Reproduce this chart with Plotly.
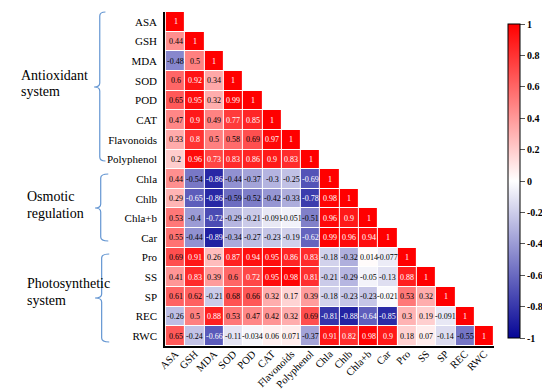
import plotly.graph_objects as go

variables = ["ASA", "GSH", "MDA", "SOD", "POD", "CAT", "Flavonoids", "Polyphenol",
             "Chla", "Chlb", "Chla+b", "Car", "Pro", "SS", "SP", "REC", "RWC"]

# lower-triangular correlation rows
r_ASA = [1]
r_GSH = [0.44, 1]
r_MDA = [-0.48, 0.5, 1]
r_SOD = [0.6, 0.92, 0.34, 1]
r_POD = [0.65, 0.95, 0.32, 0.99, 1]
r_CAT = [0.47, 0.9, 0.49, 0.77, 0.85, 1]
r_Flav = [0.33, 0.8, 0.5, 0.58, 0.69, 0.97, 1]
r_Poly = [0.2, 0.96, 0.73, 0.83, 0.86, 0.9, 0.83, 1]
r_Chla = [0.44, -0.54, -0.86, -0.44, -0.37, -0.3, -0.25, -0.69, 1]
r_Chlb = [0.29, -0.65, -0.86, -0.59, -0.52, -0.42, -0.33, -0.78, 0.98, 1]
r_Chlab = [0.53, -0.4, -0.72, -0.29, -0.21, -0.091, -0.051, -0.51, 0.96, 0.9, 1]
r_Car = [0.55, -0.44, -0.89, -0.34, -0.27, -0.23, -0.19, -0.62, 0.99, 0.96, 0.94, 1]
r_Pro = [0.69, 0.91, 0.26, 0.87, 0.94, 0.95, 0.86, 0.83, -0.18, -0.32, 0.014, -0.077, 1]
r_SS = [0.41, 0.83, 0.39, 0.6, 0.72, 0.95, 0.98, 0.81, -0.21, -0.29, -0.05, -0.13, 0.88, 1]
r_SP = [0.61, 0.62, -0.21, 0.68, 0.66, 0.32, 0.17, 0.39, -0.18, -0.23, -0.23, -0.021, 0.53, 0.32, 1]
r_REC = [-0.26, 0.5, 0.88, 0.53, 0.47, 0.42, 0.32, 0.69, -0.81, -0.88, -0.64, -0.85, 0.3, 0.19, -0.091, 1]
r_RWC = [0.65, -0.24, -0.66, -0.11, -0.034, 0.06, 0.071, -0.37, 0.91, 0.82, 0.98, 0.9, 0.18, 0.07, -0.14, -0.55, 1]

rows = [r_ASA, r_GSH, r_MDA, r_SOD, r_POD, r_CAT, r_Flav, r_Poly, r_Chla, r_Chlb,
        r_Chlab, r_Car, r_Pro, r_SS, r_SP, r_REC, r_RWC]

groups = [("Antioxidant", "system"), ("Osmotic", "regulation"), ("Photosynthetic", "system")]

cbar_ticks = [-1, -0.8, -0.6, -0.4, -0.2, 0, 0.2, 0.4, 0.6, 0.8, 1]

SERIF = "Liberation Serif, Times New Roman, serif"

n = len(variables)
z = [[(rows[i][j] if j <= i else None) for j in range(n)] for i in range(n)]

colorscale = [[0.0, "rgb(5,5,150)"], [0.5, "rgb(255,255,255)"], [1.0, "rgb(255,0,0)"]]

fig = go.Figure()
fig.add_trace(go.Heatmap(
    z=z, x=variables, y=variables, zmin=-1, zmax=1,
    colorscale=colorscale, xgap=1, ygap=1, hoverongaps=False,
    colorbar=dict(
        x=1.013, xanchor="left", y=0.494, yanchor="middle", len=1.0, lenmode="fraction",
        thickness=12, outlinecolor="black", outlinewidth=1,
        ticks="outside", ticklen=5, tickcolor="#555", tickwidth=1,
        tickvals=cbar_ticks, ticktext=[f"{t:g}" for t in cbar_ticks],
        tickfont=dict(family=SERIF, size=10, color="black", weight="bold"),
    ),
))

annotations = []
for i in range(n):
    for j in range(i + 1):
        v = rows[i][j]
        col = "white" if (v >= 0.7 or v <= -0.6) else "black"
        annotations.append(dict(x=variables[j], y=variables[i], text=f"{v:g}", showarrow=False,
                                font=dict(family=SERIF, size=8, color=col)))

L, R, T, B = 157, 505, 4, 338
def px_x(p):
    return (p - L) / (R - L)
def px_y(p):
    return (B - p) / (B - T)

# group labels
label_pos = [(3, 67, 83), (9, 188, 205), (9, 275, 292)]
for (l1, l2), (xp, y1, y2) in zip(groups, label_pos):
    for txt, yp in ((l1, y1), (l2, y2)):
        annotations.append(dict(x=px_x(xp), y=px_y(yp), xref="paper", yref="paper", text=txt,
                                showarrow=False, xanchor="left", yanchor="middle",
                                font=dict(family=SERIF, size=14, color="black")))

# braces
brace_pos = [(94, 88, 82, 4, 79, 153), (97, 89, 83, 166, 200, 233), (98, 90, 83, 246, 290, 334)]
shapes = []
for xe, xl, xt, yt, ym, yb in brace_pos:
    r = 4
    pts = [
        ("M", [(xe, yt)]),
        ("Q", [(xl, yt), (xl, yt + r)]),
        ("L", [(xl, ym - r)]),
        ("Q", [(xl, ym), (xt, ym)]),
        ("Q", [(xl, ym), (xl, ym + r)]),
        ("L", [(xl, yb - r)]),
        ("Q", [(xl, yb), (xe, yb)]),
    ]
    path = " ".join(c + " " + " ".join(f"{px_x(a):.5f},{px_y(b):.5f}" for a, b in p) for c, p in pts)
    shapes.append(dict(type="path", path=path, xref="paper", yref="paper",
                       line=dict(color="rgb(100,150,210)", width=1.2)))

fig.update_layout(
    width=550, height=389,
    margin=dict(l=L, r=550 - R, t=T, b=389 - B),
    plot_bgcolor="white", paper_bgcolor="white",
    annotations=annotations, shapes=shapes,
    xaxis=dict(showgrid=False, zeroline=False, showline=True, linecolor="black", linewidth=1.5,
               tickangle=-45, ticks="", ticklabelstandoff=-4,
               tickfont=dict(family=SERIF, size=10.5, color="black")),
    yaxis=dict(showgrid=False, zeroline=False, showline=True, linecolor="black", linewidth=1.5,
               autorange="reversed", ticks="", ticklabelstandoff=4,
               tickfont=dict(family=SERIF, size=11, color="black")),
)

fig.write_html("out.html")
